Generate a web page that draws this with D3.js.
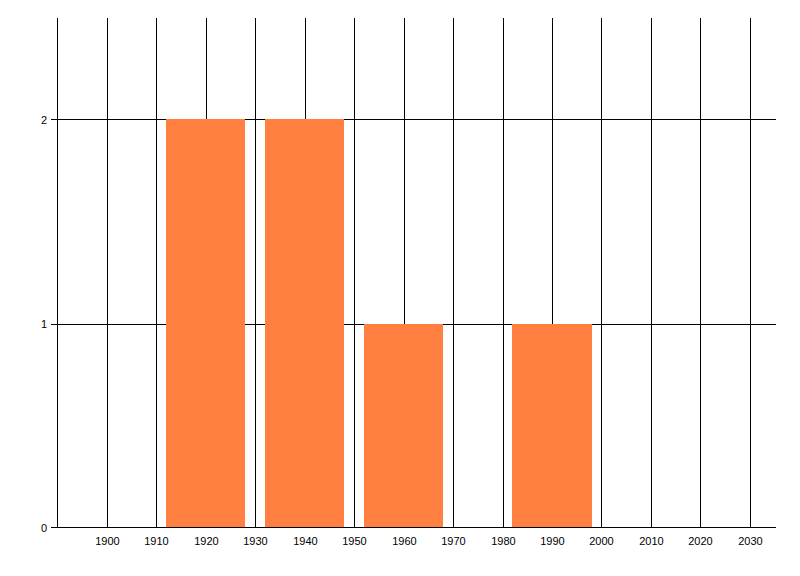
<!DOCTYPE html>
<html>
<head>
<meta charset="utf-8">
<script src="https://cdn.jsdelivr.net/npm/d3@7"></script>
<style>
  body { margin: 0; background: #fff; }
  text { font-family: "Liberation Sans", Arial, sans-serif; font-size: 11px; fill: #000; }
  rect, line { shape-rendering: crispEdges; }
</style>
</head>
<body>
<div id="chart"></div>
<script>
var years = [1920, 1940, 1960, 1990];
var counts = [2, 2, 1, 1];
var xTicks = [1900, 1910, 1920, 1930, 1940, 1950, 1960, 1970, 1980, 1990, 2000, 2010, 2020, 2030];
var yTicks = [0, 1, 2];
var barWidthYears = 16;

var width = 800, height = 576;
// plot box (note: "top" is reserved on window, hence the prefix)
var plotLeft = 57.5, plotRight = 775.5, plotTop = 17.5, plotBottom = 527.5;

var svg = d3.select("#chart")
    .append("svg")
    .attr("width", width)
    .attr("height", height);

var x = d3.scaleLinear().domain([1890, 2035.2]).range([plotLeft, plotRight]);
var y = d3.scaleLinear().domain([0, 2.5]).range([plotBottom, plotTop]);

// vertical grid lines
svg.append("g")
    .selectAll("line")
    .data(xTicks)
    .enter().append("line")
    .attr("x1", function(d) { return Math.round(x(d)) + 0.5; })
    .attr("x2", function(d) { return Math.round(x(d)) + 0.5; })
    .attr("y1", plotTop)
    .attr("y2", plotBottom)
    .attr("stroke", "#000")
    .attr("stroke-width", 1);

// horizontal grid lines
svg.append("g")
    .selectAll("line")
    .data(yTicks.filter(function(d) { return d > 0; }))
    .enter().append("line")
    .attr("x1", plotLeft - 7)
    .attr("x2", plotRight)
    .attr("y1", function(d) { return Math.round(y(d)) + 0.5; })
    .attr("y2", function(d) { return Math.round(y(d)) + 0.5; })
    .attr("stroke", "#000")
    .attr("stroke-width", 1);

// bars
svg.append("g")
    .selectAll("rect")
    .data(years)
    .enter().append("rect")
    .attr("x", function(d) { return Math.round(x(d - barWidthYears / 2)); })
    .attr("width", function(d) { return Math.round(x(d + barWidthYears / 2)) - Math.round(x(d - barWidthYears / 2)); })
    .attr("y", function(d, i) { return Math.round(y(counts[i])); })
    .attr("height", function(d, i) { return Math.round(plotBottom) - Math.round(y(counts[i])); })
    .attr("fill", "#ff8040");

// axes lines
svg.append("line")
    .attr("x1", plotLeft).attr("x2", plotLeft)
    .attr("y1", plotTop).attr("y2", plotBottom)
    .attr("stroke", "#000");
svg.append("line")
    .attr("x1", plotLeft - 7).attr("x2", plotRight)
    .attr("y1", plotBottom).attr("y2", plotBottom)
    .attr("stroke", "#000");

// x labels
svg.append("g")
    .selectAll("text")
    .data(xTicks)
    .enter().append("text")
    .attr("x", function(d) { return Math.round(x(d)) + 0.5; })
    .attr("y", 545)
    .attr("text-anchor", "middle")
    .text(function(d) { return d; });

// y labels
svg.append("g")
    .selectAll("text")
    .data(yTicks)
    .enter().append("text")
    .attr("x", 47)
    .attr("y", function(d) { return y(d) + 4; })
    .attr("text-anchor", "end")
    .text(function(d) { return d; });
</script>
</body>
</html>
